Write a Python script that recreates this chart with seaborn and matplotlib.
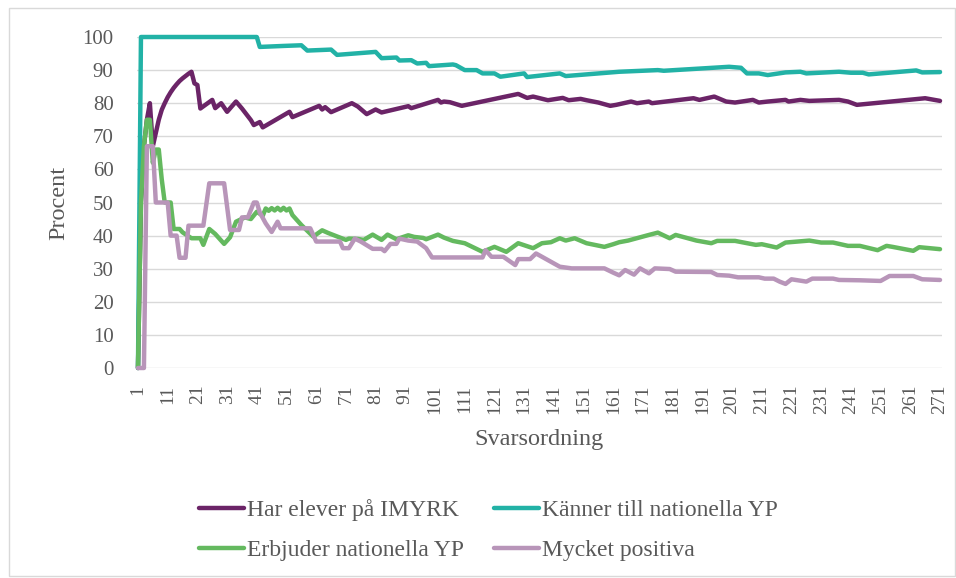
import matplotlib
matplotlib.use("Agg")
import matplotlib.pyplot as plt
from matplotlib.patches import Rectangle
import seaborn as sns
import pandas as pd

# breakpoints (svarsordning, procent)
har_x = [1, 2, 3, 4, 5, 6, 7, 8, 9, 10, 11, 12, 13, 14, 15, 16, 17, 18, 19, 20, 21, 22,
         26, 27, 29, 31, 34, 36, 39, 40, 42, 43, 52, 53, 62, 63, 64, 66, 73, 75, 78, 81,
         83, 92, 93, 102, 103, 104, 106, 110, 129, 132, 134, 139, 144, 146, 150, 152,
         156, 160, 162, 167, 169, 173, 174, 188, 190, 195, 199, 202, 208, 210, 213, 219,
         220, 224, 227, 237, 240, 243, 266, 271]
har_y = [0, 50, 67, 75, 80, 67, 71, 75, 78, 80, 81.8, 83.3, 84.6, 85.7, 86.7, 87.5, 88.2, 88.9, 89.5, 86, 85.5, 78.4,
         81, 78.5, 80, 77.4, 80.5, 78.4, 74.9, 73.4, 74.3, 72.7, 77.4, 75.8, 79.2, 78.1, 78.8, 77.3, 80.0, 79.0, 76.7, 78.1,
         77.2, 79.1, 78.5, 81.0, 80.2, 80.5, 80.3, 79.2, 82.8, 81.6, 82.0, 80.9, 81.6, 80.9, 81.3, 80.9,
         80.2, 79.2, 79.5, 80.5, 80.0, 80.5, 80.0, 81.5, 81.0, 82.0, 80.5, 80.2, 81.0, 80.2, 80.5, 81.0,
         80.5, 81.0, 80.7, 81.0, 80.5, 79.5, 81.5, 80.7]

kanner_x = [1, 2, 41, 42, 50, 56, 58, 66, 68, 81, 83, 88, 89, 93, 95, 98, 99, 107, 108, 111,
            115, 117, 121, 123, 131, 132, 143, 145, 163, 176, 178, 200, 204, 206, 210, 213,
            219, 224, 226, 237, 241, 245, 247, 263, 265, 271]
kanner_y = [0, 100, 100, 97, 97.3, 97.5, 95.9, 96.2, 94.6, 95.5, 93.6, 93.8, 92.9, 93.0, 92.0, 92.2, 91.2, 91.7, 91.5, 90.0,
            90.0, 89.0, 89.0, 88.0, 89.0, 87.9, 89.0, 88.2, 89.5, 90.0, 89.8, 91.0, 90.7, 89.0, 89.0, 88.5,
            89.3, 89.5, 89.0, 89.5, 89.2, 89.2, 88.7, 89.9, 89.3, 89.4]

erbjuder_x = [1, 2, 3, 4, 5, 6, 7, 8, 9, 10, 12, 13, 15, 16, 19, 22, 23, 25, 27, 30, 32, 34,
              37, 39, 41, 43, 44, 45, 46, 47, 48, 49, 50, 51, 52, 53, 56, 60, 63, 65, 71, 72,
              75, 77, 80, 83, 85, 88, 92, 94, 97, 98, 102, 104, 107, 111, 117, 121, 125, 129,
              134, 137, 140, 143, 145, 148, 152, 158, 161, 163, 166, 173, 176, 180, 182, 189,
              194, 196, 202, 209, 211, 216, 219, 227, 231, 235, 240, 244, 250, 253, 255, 262,
              264, 271]
erbjuder_y = [0, 50, 67, 75, 75, 62, 66, 66, 57, 50, 50, 42, 42, 41, 39.2, 39.2, 37.2, 42, 40.5, 37.5, 39.5, 44.2,
              45.5, 45, 47.2, 46, 48.2, 47.5, 48.3, 47.6, 48.4, 47.6, 48.4, 47.6, 48.2, 46.2, 43.2, 39.7, 41.6, 40.8, 38.7, 39.1,
              39.0, 38.7, 40.3, 38.7, 40.3, 38.9, 40.1, 39.6, 39.3, 38.9, 40.3, 39.4, 38.4, 37.7, 35.1, 36.6, 35.1, 37.7,
              36.2, 37.7, 38.0, 39.2, 38.5, 39.2, 37.7, 36.6, 37.4, 38.0, 38.5, 40.2, 40.9, 39.2, 40.2, 38.5,
              37.7, 38.4, 38.4, 37.2, 37.4, 36.4, 37.9, 38.5, 37.9, 37.9, 36.9, 36.9, 35.6, 36.9, 36.6, 35.4,
              36.5, 35.9]

mycket_x = [1, 3, 4, 6, 7, 11, 12, 14, 15, 17, 18, 23, 25, 30, 32, 35, 36, 38, 40, 41, 42, 44,
            46, 48, 49, 59, 61, 69, 70, 72, 74, 76, 80, 83, 84, 86, 88, 89, 92, 95, 98, 100,
            117, 118, 120, 124, 128, 129, 133, 135, 138, 143, 147, 158, 161, 163, 165, 168,
            170, 173, 175, 180, 182, 194, 196, 200, 203, 210, 212, 215, 217, 219, 221, 226,
            228, 235, 237, 244, 251, 254, 262, 265, 271]
mycket_y = [0, 0, 67, 67, 50, 50, 40, 40, 33.3, 33.3, 43, 43, 55.8, 55.8, 41.7, 41.7, 45.5, 45.5, 50, 50, 47, 43.7,
            41.1, 44.2, 42.2, 42.2, 38.2, 38.2, 36.2, 36.2, 39.1, 38.2, 36, 36, 35.3, 37.5, 37.5, 39.1, 38.5, 38.2, 36.2, 33.4,
            33.4, 35.6, 33.6, 33.6, 31.1, 32.9, 32.9, 34.6, 33.1, 30.6, 30.1, 30.1, 28.8, 28.0, 29.6, 28.2,
            30.1, 28.6, 30.1, 29.9, 29.1, 29.0, 28.1, 27.9, 27.4, 27.4, 27.0, 27.0, 26.1, 25.4, 26.8, 26.1,
            27.0, 27.0, 26.6, 26.5, 26.3, 27.8, 27.8, 26.8, 26.6]

series_names = ["Har elever på IMYRK", "Känner till nationella YP",
                "Erbjuder nationella YP", "Mycket positiva"]
colors = ["#6B2467", "#22B2A6", "#64B95F", "#B895B9"]
x_ticks = list(range(1, 272, 10))
y_ticks = list(range(0, 101, 10))

parts = []
for name, xs, ys in zip(series_names,
                        [har_x, kanner_x, erbjuder_x, mycket_x],
                        [har_y, kanner_y, erbjuder_y, mycket_y]):
    parts.append(pd.DataFrame({"x": xs, "y": ys, "serie": name}))
df = pd.concat(parts, ignore_index=True)

sns.set_style("white")
plt.rcParams["font.family"] = ["Liberation Serif", "DejaVu Serif"]
text_col = "#595959"

W, H = 956, 578
fig = plt.figure(figsize=(W / 100, H / 100), dpi=100)
ax = fig.add_axes([136.5 / W, 1 - 368 / H, 805 / W, 331 / H])

# ram runt diagramytan
fig.patches.append(Rectangle((9 / W, 2 / H), 946 / W, 568 / H, transform=fig.transFigure,
                             fill=False, edgecolor="#D9D9D9", linewidth=1))

sns.lineplot(data=df, x="x", y="y", hue="serie", hue_order=series_names,
             palette=colors, estimator=None, sort=False, linewidth=3.2,
             legend=False, ax=ax)
for ln in ax.get_lines():
    ln.set_solid_capstyle("round")
    ln.set_solid_joinstyle("round")
    ln.set_clip_on(False)

ax.set_xlim(0.5, 271.5)
ax.set_ylim(0, 100)
ax.set_xticks(x_ticks)
ax.set_xticklabels([str(t) for t in x_ticks], rotation=90)
ax.set_yticks(y_ticks)
ax.grid(axis="y", color="#D9D9D9", linewidth=1.0)
ax.grid(axis="x", visible=False)
ax.set_axisbelow(True)
for s in ax.spines.values():
    s.set_visible(False)
ax.tick_params(axis="y", length=0, pad=16.5, labelsize=15, labelcolor=text_col)
ax.tick_params(axis="x", length=0, pad=12, labelsize=14, labelcolor=text_col)

ax.set_ylabel("Procent", fontsize=17.5, color=text_col, va="center")
ax.yaxis.set_label_coords(-0.097, 0.5)
ax.set_xlabel("Svarsordning", fontsize=17.5, color=text_col, va="center")
ax.xaxis.set_label_coords(0.5, -72 / 331)

lines = ax.get_lines()
order = [0, 2, 1, 3]
leg = fig.legend([lines[i] for i in order], [series_names[i] for i in order],
                 loc="upper left", bbox_to_anchor=(199 / W, 1 - 499 / H),
                 ncol=2, frameon=False, fontsize=17, handlelength=1.9,
                 handletextpad=0.15, columnspacing=1.25, labelspacing=0.8,
                 borderpad=0, borderaxespad=0)
for t in leg.get_texts():
    t.set_color(text_col)
for h in leg.legend_handles:
    h.set_linewidth(3.2)
    h.set_solid_capstyle("round")

fig.savefig("out.png", dpi=100)
